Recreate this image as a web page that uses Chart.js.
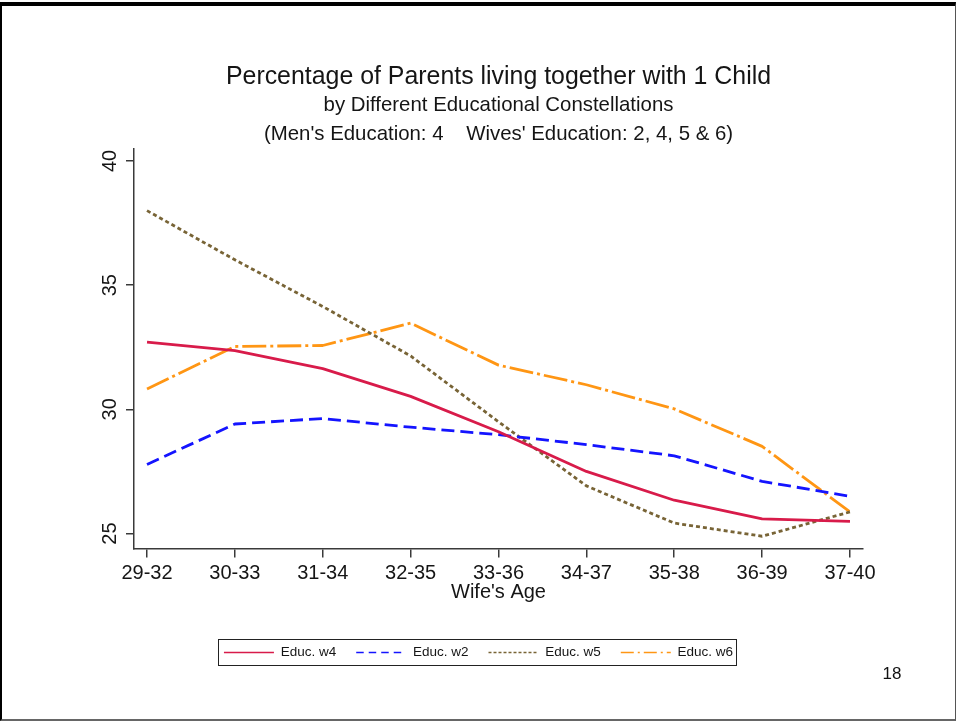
<!DOCTYPE html>
<html>
<head>
<meta charset="utf-8">
<title>Percentage of Parents living together with 1 Child</title>
<script src="https://cdn.jsdelivr.net/npm/chart.js@4.4.1/dist/chart.umd.min.js"></script>
<style>
    html, body { margin: 0; padding: 0; background: #fff; }
    #pagina { position: relative; width: 957px; height: 722px; overflow: hidden; }
    #moldura {
        position: absolute; left: 0; top: 2px; width: 956px; height: 719px; box-sizing: border-box;
        border-top: 4px solid #000; border-left: 2px solid #000;
        border-right: 1px solid #555; border-bottom: 2px solid #666;
    }
    #grafico { position: absolute; left: 0; top: 0; }
    #numeroPagina {
        position: absolute; left: 872px; top: 664px; width: 40px; text-align: center;
        font: 17px 'Liberation Sans', Arial, Helvetica, sans-serif; color: #111;
    }
</style>
</head>
<body>
<div id="pagina">
    <canvas id="grafico" width="957" height="722"></canvas>
    <div id="moldura"></div>
    <div id="numeroPagina">18</div>
</div>
<script>
// dados
const categorias = ['29-32', '30-33', '31-34', '32-35', '33-36', '34-37', '35-38', '36-39', '37-40'];
const educW4 = [32.71, 32.36, 31.64, 30.52, 29.10, 27.50, 26.34, 25.59, 25.49];
const educW2 = [27.78, 29.41, 29.63, 29.28, 28.98, 28.58, 28.13, 27.10, 26.50];
const educW5 = [38.00, 36.02, 34.14, 32.15, 29.50, 26.92, 25.42, 24.89, 25.87];
const educW6 = [30.82, 32.53, 32.57, 33.47, 31.78, 30.99, 30.02, 28.51, 25.87];
const ticksY = [25, 30, 35, 40];

const titulo = 'Percentage of Parents living together with 1 Child';
const subtitulo = ['by Different Educational Constellations', "(Men's Education: 4    Wives' Education: 2, 4, 5 & 6)"];
const tituloX = "Wife's Age";
const nomesSeries = ['Educ. w4', 'Educ. w2', 'Educ. w5', 'Educ. w6'];

const fonte = "'Liberation Sans', Arial, Helvetica, sans-serif";
const corTexto = '#151515';
const corEixo = '#3a3a3a';

// tracos das linhas no grafico e na legenda
const coresSeries = ['#d81b4a', '#1414ff', '#786436', '#ff9614'];
const tracosLinha = [[], [13, 6], [4, 3], [24, 4, 3, 4]];
const tracosLegenda = [[], [7.5, 5], [3, 2], [13, 4, 2, 4]];

function montarSerie(valores) {
    return valores.map(function (v, i) { return { x: i, y: v }; });
}

const valoresSeries = [educW4, educW2, educW5, educW6];

let datasets = [];
for (let i = 0; i < valoresSeries.length; i++) {
    datasets.push({
        label: nomesSeries[i],
        data: montarSerie(valoresSeries[i]),
        borderColor: coresSeries[i],
        backgroundColor: coresSeries[i],
        borderWidth: 2.8,
        borderDash: tracosLinha[i],
        borderCapStyle: 'butt',
        borderJoinStyle: 'round',
        pointRadius: 0,
        tension: 0,
        fill: false
    });
}

// moldura em volta da legenda
const caixaLegenda = {
    id: 'caixaLegenda',
    afterDraw(chart) {
        const caixas = chart.legend.legendHitBoxes;
        if (!caixas || !caixas.length) return;
        const esq = Math.min(...caixas.map(c => c.left)) - 5.5;
        const dir = Math.max(...caixas.map(c => c.left + c.width)) + 3;
        const meio = caixas[0].top + caixas[0].height / 2;
        const c = chart.ctx;
        c.save();
        c.strokeStyle = '#222';
        c.lineWidth = 1;
        c.strokeRect(Math.round(esq) + 0.5, Math.round(meio - 13) + 0.5, Math.round(dir - esq), 26);
        c.restore();
    }
};

const ctx = document.getElementById('grafico').getContext('2d');

const config = {
    type: 'line',
    data: { datasets: datasets },
    options: {
        responsive: false,
        animation: false,
        layout: { padding: { left: 0, right: 0, top: 0, bottom: 52.8 } },
        plugins: {
            title: {
                display: true,
                text: titulo,
                fullSize: false,
                color: corTexto,
                font: { family: fonte, size: 24.9, weight: 'normal', lineHeight: 1.1 },
                padding: { top: 63.3, bottom: 0 }
            },
            subtitle: {
                display: true,
                text: subtitulo,
                fullSize: false,
                color: corTexto,
                font: { family: fonte, size: 20.4, weight: 'normal', lineHeight: 1.42 },
                padding: { top: 0, bottom: 0 }
            },
            legend: {
                position: 'bottom',
                labels: {
                    usePointStyle: true,
                    pointStyleWidth: 50,
                    padding: 20,
                    color: corTexto,
                    font: { family: fonte, size: 13.5 },
                    generateLabels(chart) {
                        return chart.data.datasets.map(function (ds, i) {
                            return {
                                text: ds.label,
                                datasetIndex: i,
                                fillStyle: 'rgba(0,0,0,0)',
                                strokeStyle: ds.borderColor,
                                lineWidth: 1.6,
                                lineDash: tracosLegenda[i],
                                lineCap: 'butt',
                                pointStyle: 'line',
                                fontColor: corTexto,
                                hidden: false
                            };
                        });
                    }
                }
            },
            tooltip: { enabled: false }
        },
        scales: {
            x: {
                type: 'linear',
                min: -0.148,
                max: 8.148,
                afterBuildTicks(scale) {
                    scale.ticks = categorias.map(function (_, i) { return { value: i }; });
                },
                afterFit(scale) { scale.height = 77.2; },
                ticks: {
                    autoSkip: false,
                    maxRotation: 0,
                    padding: 4,
                    color: corTexto,
                    font: { family: fonte, size: 20 },
                    callback: function (valor) { return categorias[valor]; }
                },
                grid: { drawOnChartArea: false, drawTicks: true, tickLength: 9, color: corEixo, lineWidth: 1.5 },
                border: { display: true, color: corEixo, width: 1.5 },
                title: {
                    display: true,
                    text: tituloX,
                    color: corTexto,
                    font: { family: fonte, size: 20 },
                    padding: { top: 0, bottom: 21.2 }
                }
            },
            y: {
                type: 'linear',
                position: 'left',
                min: 24.397,
                max: 40.497,
                afterBuildTicks(scale) {
                    scale.ticks = ticksY.map(function (v) { return { value: v }; });
                },
                afterFit(scale) { scale.width = 134; },
                ticks: {
                    minRotation: 90,
                    maxRotation: 90,
                    crossAlign: 'center',
                    padding: 4,
                    color: corTexto,
                    font: { family: fonte, size: 20 }
                },
                grid: { drawOnChartArea: false, drawTicks: true, tickLength: 8, color: corEixo, lineWidth: 1.5 },
                border: { display: true, color: corEixo, width: 1.5 }
            },
            yDir: {
                type: 'linear',
                position: 'right',
                display: true,
                afterFit(scale) { scale.width = 94; },
                ticks: { display: false },
                grid: { display: false },
                border: { display: false }
            }
        }
    },
    plugins: [caixaLegenda]
};

let graficoPais = new Chart(ctx, config);
</script>
</body>
</html>
